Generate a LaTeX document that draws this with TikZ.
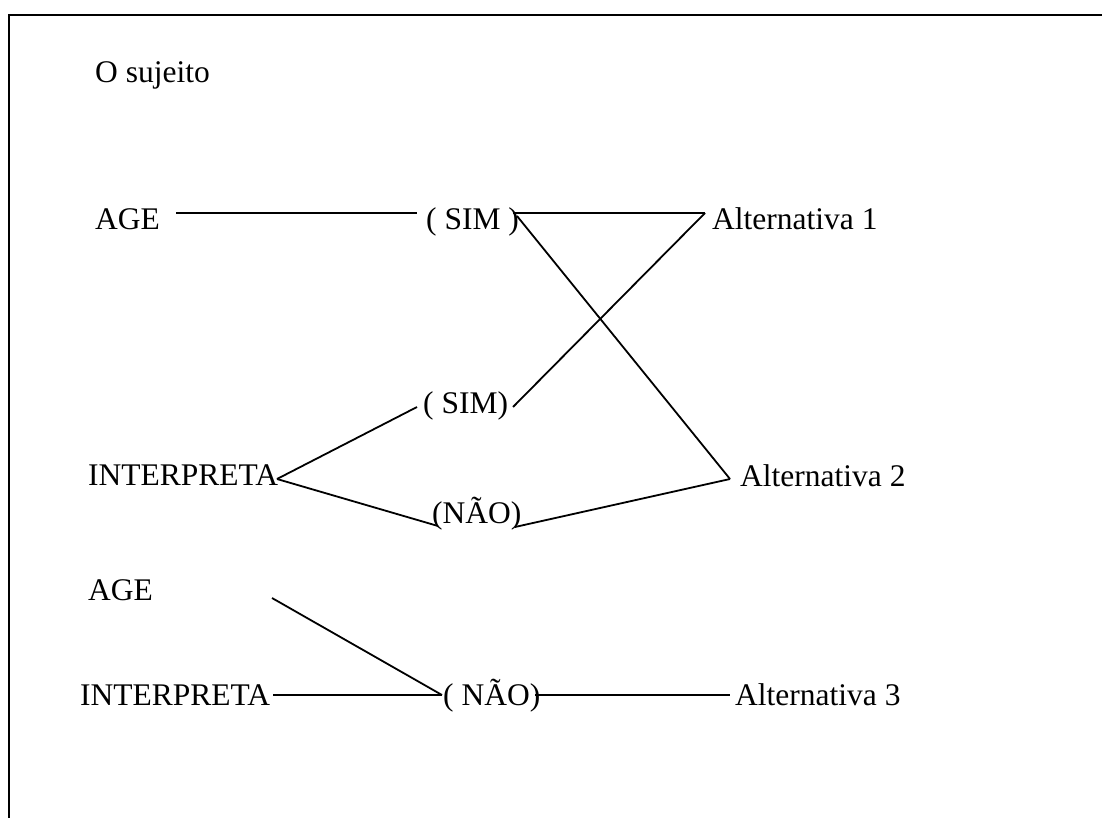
\documentclass[tikz,border=0pt]{standalone}
\usepackage{fontspec}
\setmainfont{Liberation Serif}
\begin{document}
\begin{tikzpicture}[x=1pt,y=-1pt,
  lbl/.style={anchor=base west,inner sep=0pt,font=\fontsize{31.5}{36}\selectfont},
  conn/.style={line width=1.8pt,line cap=butt},
  frame/.style={line width=2.2pt}]
\useasboundingbox (0,0) rectangle (1102,818);
\draw[frame] (9,820) -- (9,15) -- (1104,15);

\node[lbl] (suj) at (95,83) {O sujeito};
\node[lbl] (age1) at (95,230) {AGE};
\node[lbl] (sim1) at (426,230) {( SIM )};
\node[lbl] (alt1) at (712,230) {Alternativa 1};
\node[lbl] (sim2) at (423,413) {( SIM)};
\node[lbl] (int1) at (88,485) {INTERPRETA};
\node[lbl] (nao1) at (432,523) {(NÃO)};
\node[lbl] (alt2) at (740,486) {Alternativa 2};
\node[lbl] (age2) at (88,600) {AGE};
\node[lbl] (int2) at (80,705) {INTERPRETA};
\node[lbl] (nao2) at (443,705) {( NÃO)};
\node[lbl] (alt3) at (735,705) {Alternativa 3};

\coordinate (a1r) at (176,213);
\coordinate (s1l) at (417,213);
\coordinate (s1r) at (513,213);
\coordinate (s1rd) at (517,216);
\coordinate (a1c) at (705,213);
\coordinate (s2l) at (417,407);
\coordinate (s2r) at (513,407);
\coordinate (i1c) at (277,479);
\coordinate (n1l) at (438,526);
\coordinate (n1r) at (515,527);
\coordinate (a2c) at (730,479);
\coordinate (g2r) at (272,598);
\coordinate (i2r) at (273,695);
\coordinate (n2l) at (442,695);
\coordinate (n2r) at (535,695);
\coordinate (a3c) at (730,695);

\draw[conn] (a1r) -- (s1l);
\draw[conn] (s1r) -- (a1c);
\draw[conn] (a1c) -- (s2r);
\draw[conn] (s1rd) -- (a2c);
\draw[conn] (i1c) -- (s2l);
\draw[conn] (i1c) -- (n1l);
\draw[conn] (n1r) -- (a2c);
\draw[conn] (g2r) -- (n2l);
\draw[conn] (i2r) -- (n2l);
\draw[conn] (n2r) -- (a3c);
\end{tikzpicture}
\end{document}
